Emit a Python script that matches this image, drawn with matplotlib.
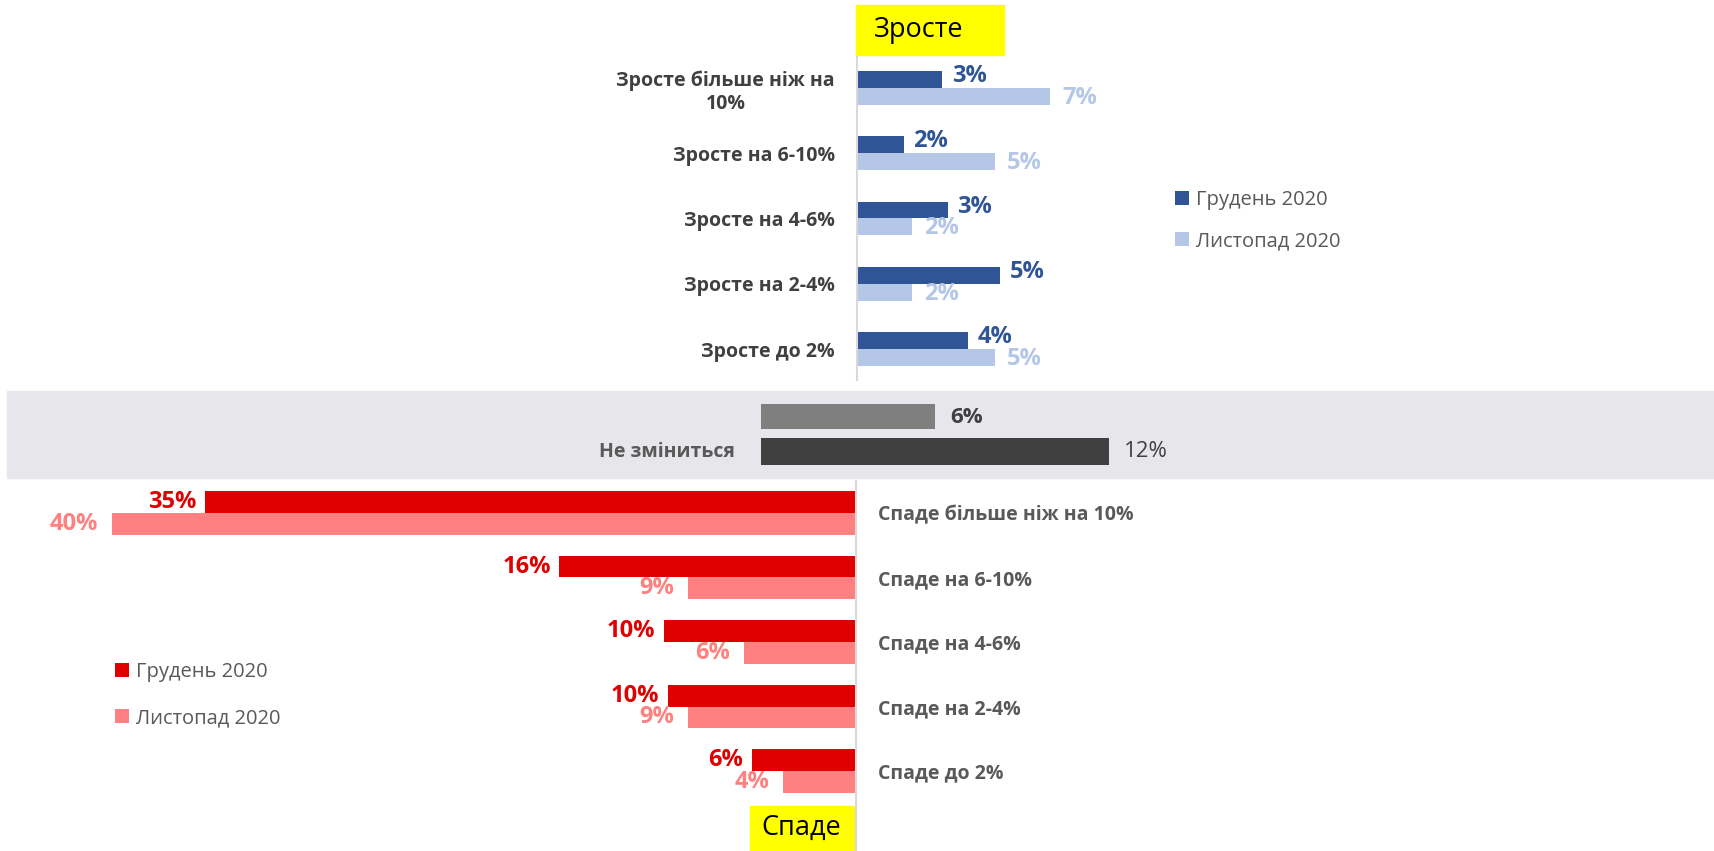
import numpy as np
import matplotlib.pyplot as plt
from matplotlib.patches import Rectangle

plt.rcParams['font.family'] = ['Open Sans', 'DejaVu Sans']

# data (bar lengths, labels are rounded)
up_labels = ['Зросте більше ніж на\n10%', 'Зросте на 6-10%', 'Зросте на 4-6%',
             'Зросте на 2-4%', 'Зросте до 2%']
up_dec = [3.1, 1.7, 3.3, 5.2, 4.05]
up_nov = [7.0, 5.0, 2.0, 2.0, 5.0]

down_labels = ['Спаде більше ніж на 10%', 'Спаде на 6-10%', 'Спаде на 4-6%',
               'Спаде на 2-4%', 'Спаде до 2%']
down_dec = [34.9, 15.9, 10.3, 10.1, 5.6]
down_nov = [39.9, 9.0, 6.0, 9.0, 3.9]

same_label = 'Не зміниться'
same_vals = [6, 12]

series_names = ['Грудень 2020', 'Листопад 2020']

W, H = 1714, 851
fig = plt.figure(figsize=(W / 100, H / 100), dpi=100)


def ax_at(x0, y0, x1, y1):
    # axes placed by pixel box (top-left origin)
    a = fig.add_axes([x0 / W, 1 - y1 / H, (x1 - x0) / W, (y1 - y0) / H])
    a.set_facecolor('none')
    for s in a.spines.values():
        s.set_visible(False)
    a.set_xticks([])
    return a


def box(x0, y0, x1, y1, color):
    fig.patches.append(Rectangle((x0 / W, 1 - y1 / H), (x1 - x0) / W, (y1 - y0) / H,
                                 transform=fig.transFigure, color=color, zorder=-1))


def pct(v):
    return f'{round(v)}%'


# background band + yellow boxes
box(7, 391, W, 478, '#E7E6EB')
box(856, 5, 1004, 55, '#FFFF00')
box(750, 806, 855, 851, '#FFFF00')
fig.text(874 / W, 1 - 30 / H, 'Зросте', fontsize=19.5, va='center', ha='left', color='black')
fig.text(801 / W, 1 - 828 / H, 'Спаде', fontsize=19.5, va='center', ha='center', color='black')

DBLUE, LBLUE = '#2F5597', '#B4C7E7'
DRED, LRED = '#E00000', '#FF8080'
LBL = 17

# ---- top: growth
ax = ax_at(857, 57, 857 + 27.5 * 30, 380)
y = np.arange(len(up_labels))
b1 = ax.barh(y - 0.13, up_dec, height=0.26, color=DBLUE)
b2 = ax.barh(y + 0.13, up_nov, height=0.26, color=LBLUE)
ax.set_xlim(0, 30)
ax.set_ylim(4.475, -0.475)
ax.spines['left'].set_visible(True)
ax.spines['left'].set_color('#D9D9D9')
ax.spines['left'].set_linewidth(1.5)
ax.set_yticks(y, up_labels, fontsize=14, fontweight='bold', color='#404040')
for lbl in ax.get_yticklabels():
    lbl.set_multialignment('center')
ax.tick_params(axis='y', length=0, pad=16)
for i in range(len(y)):
    ax.annotate(pct(up_dec[i]), (up_dec[i], y[i] - 0.13), xytext=(7, 2.5), textcoords='offset points',
                va='center', ha='left', fontsize=LBL, fontweight='bold', color=DBLUE)
    ax.annotate(pct(up_nov[i]), (up_nov[i], y[i] + 0.13), xytext=(9, -1), textcoords='offset points',
                va='center', ha='left', fontsize=LBL, fontweight='bold', color=LBLUE)
ax.legend([b1, b2], series_names, loc='upper left', bbox_to_anchor=(1157 / W, 1 - 172 / H),
          bbox_transform=fig.transFigure, frameon=False, handlelength=0.7, handleheight=0.7,
          handletextpad=0.35, labelspacing=1.05, fontsize=14.5, labelcolor='#595959')

# ---- middle: no change
ax = ax_at(761, 391, 761 + 29 * 20, 478)
ax.barh([0, 1], same_vals, height=[0.72, 0.77], color=['#7F7F7F', '#404040'])
ax.set_xlim(0, 20)
ax.set_ylim(1.757, -0.729)
ax.set_yticks([0.93], [same_label], fontsize=14, fontweight='bold', color='#595959')
ax.tick_params(axis='y', length=0, pad=19)
ax.annotate(pct(same_vals[0]), (same_vals[0], 0), xytext=(11, -1), textcoords='offset points',
            va='center', ha='left', fontsize=16, fontweight='bold', color='#404040')
ax.annotate(pct(same_vals[1]), (same_vals[1], 1), xytext=(11, 0), textcoords='offset points',
            va='center', ha='left', fontsize=16, color='#404040')

# ---- bottom: decline
ax = ax_at(856 - 45 * 18.65, 481, 856, 851)
y = np.arange(len(down_labels))
b1 = ax.barh(y - 0.17, down_dec, height=0.34, color=DRED)
b2 = ax.barh(y + 0.17, down_nov, height=0.34, color=LRED)
ax.set_xlim(45, 0)
ax.set_ylim(5.24, -0.496)
ax.spines['right'].set_visible(True)
ax.spines['right'].set_color('#D9D9D9')
ax.spines['right'].set_linewidth(1.5)
ax.yaxis.tick_right()
ax.set_yticks(y, down_labels, fontsize=14, fontweight='bold', color='#595959')
ax.tick_params(axis='y', length=0, pad=16)
for i in range(len(y)):
    ax.annotate(pct(down_dec[i]), (down_dec[i], y[i] - 0.17), xytext=(-6, 0), textcoords='offset points',
                va='center', ha='right', fontsize=LBL, fontweight='bold', color=DRED)
    ax.annotate(pct(down_nov[i]), (down_nov[i], y[i] + 0.17), xytext=(-10, 0), textcoords='offset points',
                va='center', ha='right', fontsize=LBL, fontweight='bold', color=LRED)
ax.legend([b1, b2], series_names, loc='upper left', bbox_to_anchor=(97 / W, 1 - 644 / H),
          bbox_transform=fig.transFigure, frameon=False, handlelength=0.7, handleheight=0.7,
          handletextpad=0.35, labelspacing=1.3, fontsize=14.5, labelcolor='#595959')

fig.savefig('out.png', dpi=100)
